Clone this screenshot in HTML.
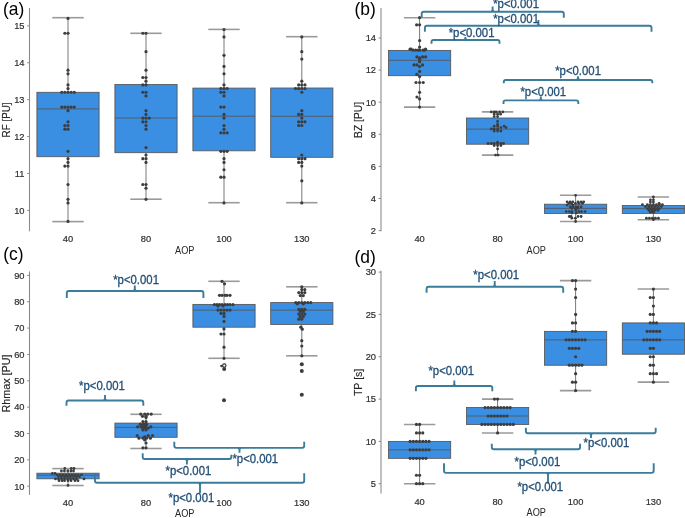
<!DOCTYPE html>
<html><head><meta charset="utf-8"><style>
html,body{margin:0;padding:0;background:#fff;}
body{width:685px;height:518px;overflow:hidden;font-family:"Liberation Sans",sans-serif;}
svg{display:block;}
</style></head><body>
<svg width="685" height="518" viewBox="0 0 685 518" font-family="Liberation Sans, sans-serif" style="will-change:transform">
<rect width="685" height="518" fill="#ffffff"/>
<text x="3" y="15.3" font-size="18.5" fill="#000" text-anchor="start" textLength="21.3" lengthAdjust="spacingAndGlyphs">(a)</text>
<text x="354.5" y="15.2" font-size="18.5" fill="#000" text-anchor="start" textLength="21.3" lengthAdjust="spacingAndGlyphs">(b)</text>
<text x="3.2" y="259.5" font-size="18.5" fill="#000" text-anchor="start" textLength="20.3" lengthAdjust="spacingAndGlyphs">(c)</text>
<text x="354.5" y="263" font-size="18.5" fill="#000" text-anchor="start" textLength="21.3" lengthAdjust="spacingAndGlyphs">(d)</text>
<line x1="29.5" y1="8" x2="29.5" y2="231.3" stroke="#8c8c8c" stroke-width="1.1"/>
<line x1="27.1" y1="210.35" x2="29.5" y2="210.35" stroke="#8c8c8c" stroke-width="1.0"/>
<text x="24.5" y="213.65" font-size="9.3" fill="#2e2e2e" text-anchor="end" stroke="#2e2e2e" stroke-width="0.2">10</text>
<line x1="27.1" y1="173.45" x2="29.5" y2="173.45" stroke="#8c8c8c" stroke-width="1.0"/>
<text x="24.5" y="176.75" font-size="9.3" fill="#2e2e2e" text-anchor="end" stroke="#2e2e2e" stroke-width="0.2">11</text>
<line x1="27.1" y1="136.55" x2="29.5" y2="136.55" stroke="#8c8c8c" stroke-width="1.0"/>
<text x="24.5" y="139.85" font-size="9.3" fill="#2e2e2e" text-anchor="end" stroke="#2e2e2e" stroke-width="0.2">12</text>
<line x1="27.1" y1="99.65" x2="29.5" y2="99.65" stroke="#8c8c8c" stroke-width="1.0"/>
<text x="24.5" y="102.95" font-size="9.3" fill="#2e2e2e" text-anchor="end" stroke="#2e2e2e" stroke-width="0.2">13</text>
<line x1="27.1" y1="62.75" x2="29.5" y2="62.75" stroke="#8c8c8c" stroke-width="1.0"/>
<text x="24.5" y="66.05" font-size="9.3" fill="#2e2e2e" text-anchor="end" stroke="#2e2e2e" stroke-width="0.2">14</text>
<line x1="27.1" y1="25.85" x2="29.5" y2="25.85" stroke="#8c8c8c" stroke-width="1.0"/>
<text x="24.5" y="29.15" font-size="9.3" fill="#2e2e2e" text-anchor="end" stroke="#2e2e2e" stroke-width="0.2">15</text>
<text x="68" y="242.2" font-size="9.3" fill="#2e2e2e" text-anchor="middle" stroke="#2e2e2e" stroke-width="0.2">40</text>
<text x="146" y="242.2" font-size="9.3" fill="#2e2e2e" text-anchor="middle" stroke="#2e2e2e" stroke-width="0.2">80</text>
<text x="224" y="242.2" font-size="9.3" fill="#2e2e2e" text-anchor="middle" stroke="#2e2e2e" stroke-width="0.2">100</text>
<text x="301.8" y="242.2" font-size="9.3" fill="#2e2e2e" text-anchor="middle" stroke="#2e2e2e" stroke-width="0.2">130</text>
<text x="184.7" y="253.9" font-size="10.3" fill="#262626" text-anchor="middle" textLength="19.4" lengthAdjust="spacingAndGlyphs">AOP</text>
<text x="0" y="0" font-size="10.9" fill="#262626" stroke="#262626" stroke-width="0.15" text-anchor="middle" textLength="35" lengthAdjust="spacingAndGlyphs" transform="translate(10 119.95) rotate(-90)">RF [PU]</text>
<line x1="381" y1="8" x2="381" y2="231.3" stroke="#8c8c8c" stroke-width="1.1"/>
<line x1="378.6" y1="230.6" x2="381" y2="230.6" stroke="#8c8c8c" stroke-width="1.0"/>
<text x="376" y="233.9" font-size="9.3" fill="#2e2e2e" text-anchor="end" stroke="#2e2e2e" stroke-width="0.2">2</text>
<line x1="378.6" y1="198.5" x2="381" y2="198.5" stroke="#8c8c8c" stroke-width="1.0"/>
<text x="376" y="201.8" font-size="9.3" fill="#2e2e2e" text-anchor="end" stroke="#2e2e2e" stroke-width="0.2">4</text>
<line x1="378.6" y1="166.4" x2="381" y2="166.4" stroke="#8c8c8c" stroke-width="1.0"/>
<text x="376" y="169.7" font-size="9.3" fill="#2e2e2e" text-anchor="end" stroke="#2e2e2e" stroke-width="0.2">6</text>
<line x1="378.6" y1="134.3" x2="381" y2="134.3" stroke="#8c8c8c" stroke-width="1.0"/>
<text x="376" y="137.6" font-size="9.3" fill="#2e2e2e" text-anchor="end" stroke="#2e2e2e" stroke-width="0.2">8</text>
<line x1="378.6" y1="102.2" x2="381" y2="102.2" stroke="#8c8c8c" stroke-width="1.0"/>
<text x="376" y="105.5" font-size="9.3" fill="#2e2e2e" text-anchor="end" stroke="#2e2e2e" stroke-width="0.2">10</text>
<line x1="378.6" y1="70.1" x2="381" y2="70.1" stroke="#8c8c8c" stroke-width="1.0"/>
<text x="376" y="73.4" font-size="9.3" fill="#2e2e2e" text-anchor="end" stroke="#2e2e2e" stroke-width="0.2">12</text>
<line x1="378.6" y1="38" x2="381" y2="38" stroke="#8c8c8c" stroke-width="1.0"/>
<text x="376" y="41.3" font-size="9.3" fill="#2e2e2e" text-anchor="end" stroke="#2e2e2e" stroke-width="0.2">14</text>
<text x="419.6" y="242.2" font-size="9.3" fill="#2e2e2e" text-anchor="middle" stroke="#2e2e2e" stroke-width="0.2">40</text>
<text x="497.6" y="242.2" font-size="9.3" fill="#2e2e2e" text-anchor="middle" stroke="#2e2e2e" stroke-width="0.2">80</text>
<text x="575.6" y="242.2" font-size="9.3" fill="#2e2e2e" text-anchor="middle" stroke="#2e2e2e" stroke-width="0.2">100</text>
<text x="653.4" y="242.2" font-size="9.3" fill="#2e2e2e" text-anchor="middle" stroke="#2e2e2e" stroke-width="0.2">130</text>
<text x="536.3" y="253.9" font-size="10.3" fill="#262626" text-anchor="middle" textLength="19.4" lengthAdjust="spacingAndGlyphs">AOP</text>
<text x="0" y="0" font-size="10.9" fill="#262626" stroke="#262626" stroke-width="0.15" text-anchor="middle" textLength="35.9" lengthAdjust="spacingAndGlyphs" transform="translate(361.5 119.95) rotate(-90)">BZ [PU]</text>
<line x1="29.5" y1="271.4" x2="29.5" y2="494.9" stroke="#8c8c8c" stroke-width="1.1"/>
<line x1="27.1" y1="486.2" x2="29.5" y2="486.2" stroke="#8c8c8c" stroke-width="1.0"/>
<text x="24.5" y="489.5" font-size="9.3" fill="#2e2e2e" text-anchor="end" stroke="#2e2e2e" stroke-width="0.2">10</text>
<line x1="27.1" y1="459.85" x2="29.5" y2="459.85" stroke="#8c8c8c" stroke-width="1.0"/>
<text x="24.5" y="463.15" font-size="9.3" fill="#2e2e2e" text-anchor="end" stroke="#2e2e2e" stroke-width="0.2">20</text>
<line x1="27.1" y1="433.5" x2="29.5" y2="433.5" stroke="#8c8c8c" stroke-width="1.0"/>
<text x="24.5" y="436.8" font-size="9.3" fill="#2e2e2e" text-anchor="end" stroke="#2e2e2e" stroke-width="0.2">30</text>
<line x1="27.1" y1="407.15" x2="29.5" y2="407.15" stroke="#8c8c8c" stroke-width="1.0"/>
<text x="24.5" y="410.45" font-size="9.3" fill="#2e2e2e" text-anchor="end" stroke="#2e2e2e" stroke-width="0.2">40</text>
<line x1="27.1" y1="380.8" x2="29.5" y2="380.8" stroke="#8c8c8c" stroke-width="1.0"/>
<text x="24.5" y="384.1" font-size="9.3" fill="#2e2e2e" text-anchor="end" stroke="#2e2e2e" stroke-width="0.2">50</text>
<line x1="27.1" y1="354.45" x2="29.5" y2="354.45" stroke="#8c8c8c" stroke-width="1.0"/>
<text x="24.5" y="357.75" font-size="9.3" fill="#2e2e2e" text-anchor="end" stroke="#2e2e2e" stroke-width="0.2">60</text>
<line x1="27.1" y1="328.1" x2="29.5" y2="328.1" stroke="#8c8c8c" stroke-width="1.0"/>
<text x="24.5" y="331.4" font-size="9.3" fill="#2e2e2e" text-anchor="end" stroke="#2e2e2e" stroke-width="0.2">70</text>
<line x1="27.1" y1="301.75" x2="29.5" y2="301.75" stroke="#8c8c8c" stroke-width="1.0"/>
<text x="24.5" y="305.05" font-size="9.3" fill="#2e2e2e" text-anchor="end" stroke="#2e2e2e" stroke-width="0.2">80</text>
<line x1="27.1" y1="275.4" x2="29.5" y2="275.4" stroke="#8c8c8c" stroke-width="1.0"/>
<text x="24.5" y="278.7" font-size="9.3" fill="#2e2e2e" text-anchor="end" stroke="#2e2e2e" stroke-width="0.2">90</text>
<text x="68" y="505.6" font-size="9.3" fill="#2e2e2e" text-anchor="middle" stroke="#2e2e2e" stroke-width="0.2">40</text>
<text x="146" y="505.6" font-size="9.3" fill="#2e2e2e" text-anchor="middle" stroke="#2e2e2e" stroke-width="0.2">80</text>
<text x="224" y="505.6" font-size="9.3" fill="#2e2e2e" text-anchor="middle" stroke="#2e2e2e" stroke-width="0.2">100</text>
<text x="301.8" y="505.6" font-size="9.3" fill="#2e2e2e" text-anchor="middle" stroke="#2e2e2e" stroke-width="0.2">130</text>
<text x="184.7" y="516.9" font-size="10.3" fill="#262626" text-anchor="middle" textLength="19.4" lengthAdjust="spacingAndGlyphs">AOP</text>
<text x="0" y="0" font-size="10.9" fill="#262626" stroke="#262626" stroke-width="0.15" text-anchor="middle" textLength="57.9" lengthAdjust="spacingAndGlyphs" transform="translate(10 383.45) rotate(-90)">Rhmax [PU]</text>
<line x1="381" y1="270.7" x2="381" y2="493.5" stroke="#8c8c8c" stroke-width="1.1"/>
<line x1="378.6" y1="483.72" x2="381" y2="483.72" stroke="#8c8c8c" stroke-width="1.0"/>
<text x="376" y="487.02" font-size="9.3" fill="#2e2e2e" text-anchor="end" stroke="#2e2e2e" stroke-width="0.2">5</text>
<line x1="378.6" y1="441.4" x2="381" y2="441.4" stroke="#8c8c8c" stroke-width="1.0"/>
<text x="376" y="444.7" font-size="9.3" fill="#2e2e2e" text-anchor="end" stroke="#2e2e2e" stroke-width="0.2">10</text>
<line x1="378.6" y1="399.08" x2="381" y2="399.08" stroke="#8c8c8c" stroke-width="1.0"/>
<text x="376" y="402.38" font-size="9.3" fill="#2e2e2e" text-anchor="end" stroke="#2e2e2e" stroke-width="0.2">15</text>
<line x1="378.6" y1="356.76" x2="381" y2="356.76" stroke="#8c8c8c" stroke-width="1.0"/>
<text x="376" y="360.06" font-size="9.3" fill="#2e2e2e" text-anchor="end" stroke="#2e2e2e" stroke-width="0.2">20</text>
<line x1="378.6" y1="314.44" x2="381" y2="314.44" stroke="#8c8c8c" stroke-width="1.0"/>
<text x="376" y="317.74" font-size="9.3" fill="#2e2e2e" text-anchor="end" stroke="#2e2e2e" stroke-width="0.2">25</text>
<line x1="378.6" y1="272.12" x2="381" y2="272.12" stroke="#8c8c8c" stroke-width="1.0"/>
<text x="376" y="275.42" font-size="9.3" fill="#2e2e2e" text-anchor="end" stroke="#2e2e2e" stroke-width="0.2">30</text>
<text x="419.6" y="504.7" font-size="9.3" fill="#2e2e2e" text-anchor="middle" stroke="#2e2e2e" stroke-width="0.2">40</text>
<text x="497.6" y="504.7" font-size="9.3" fill="#2e2e2e" text-anchor="middle" stroke="#2e2e2e" stroke-width="0.2">80</text>
<text x="575.6" y="504.7" font-size="9.3" fill="#2e2e2e" text-anchor="middle" stroke="#2e2e2e" stroke-width="0.2">100</text>
<text x="653.4" y="504.7" font-size="9.3" fill="#2e2e2e" text-anchor="middle" stroke="#2e2e2e" stroke-width="0.2">130</text>
<text x="536.3" y="516" font-size="10.3" fill="#262626" text-anchor="middle" textLength="19.4" lengthAdjust="spacingAndGlyphs">AOP</text>
<text x="0" y="0" font-size="10.9" fill="#262626" stroke="#262626" stroke-width="0.15" text-anchor="middle" textLength="27.4" lengthAdjust="spacingAndGlyphs" transform="translate(361.5 382.4) rotate(-90)">TP [s]</text>
<line x1="68" y1="92.3" x2="68" y2="17.7" stroke="#555555" stroke-width="0.8"/>
<line x1="68" y1="156.7" x2="68" y2="221.6" stroke="#555555" stroke-width="0.8"/>
<line x1="52.3" y1="17.7" x2="83.7" y2="17.7" stroke="#9a9a9a" stroke-width="1.6"/>
<line x1="52.3" y1="221.6" x2="83.7" y2="221.6" stroke="#9a9a9a" stroke-width="1.6"/>
<rect x="36.9" y="92.3" width="62.2" height="64.4" fill="#3a8fe3" stroke="#555555" stroke-width="0.85"/>
<line x1="36.9" y1="108.9" x2="99.1" y2="108.9" stroke="#555555" stroke-width="0.85"/>
<line x1="146" y1="84.5" x2="146" y2="33.3" stroke="#555555" stroke-width="0.8"/>
<line x1="146" y1="152.7" x2="146" y2="199.2" stroke="#555555" stroke-width="0.8"/>
<line x1="130.3" y1="33.3" x2="161.7" y2="33.3" stroke="#9a9a9a" stroke-width="1.6"/>
<line x1="130.3" y1="199.2" x2="161.7" y2="199.2" stroke="#9a9a9a" stroke-width="1.6"/>
<rect x="114.9" y="84.5" width="62.2" height="68.2" fill="#3a8fe3" stroke="#555555" stroke-width="0.85"/>
<line x1="114.9" y1="118" x2="177.1" y2="118" stroke="#555555" stroke-width="0.85"/>
<line x1="224" y1="88.1" x2="224" y2="29.4" stroke="#555555" stroke-width="0.8"/>
<line x1="224" y1="150.8" x2="224" y2="202.7" stroke="#555555" stroke-width="0.8"/>
<line x1="208.3" y1="29.4" x2="239.7" y2="29.4" stroke="#9a9a9a" stroke-width="1.6"/>
<line x1="208.3" y1="202.7" x2="239.7" y2="202.7" stroke="#9a9a9a" stroke-width="1.6"/>
<rect x="192.9" y="88.1" width="62.2" height="62.7" fill="#3a8fe3" stroke="#555555" stroke-width="0.85"/>
<line x1="192.9" y1="116.2" x2="255.1" y2="116.2" stroke="#555555" stroke-width="0.85"/>
<line x1="301.8" y1="88" x2="301.8" y2="36.7" stroke="#555555" stroke-width="0.8"/>
<line x1="301.8" y1="157.3" x2="301.8" y2="202.7" stroke="#555555" stroke-width="0.8"/>
<line x1="286.1" y1="36.7" x2="317.5" y2="36.7" stroke="#9a9a9a" stroke-width="1.6"/>
<line x1="286.1" y1="202.7" x2="317.5" y2="202.7" stroke="#9a9a9a" stroke-width="1.6"/>
<rect x="270.7" y="88" width="62.2" height="69.3" fill="#3a8fe3" stroke="#555555" stroke-width="0.85"/>
<line x1="270.7" y1="116.3" x2="332.9" y2="116.3" stroke="#555555" stroke-width="0.85"/>
<circle cx="68" cy="18.47" r="1.6" fill="#3d3d3d"/>
<circle cx="64.85" cy="33.23" r="1.6" fill="#3d3d3d"/>
<circle cx="68" cy="33.23" r="1.6" fill="#3d3d3d"/>
<circle cx="68" cy="70.13" r="1.6" fill="#3d3d3d"/>
<circle cx="68" cy="73.82" r="1.6" fill="#3d3d3d"/>
<circle cx="68" cy="84.89" r="1.6" fill="#3d3d3d"/>
<circle cx="68" cy="88.58" r="1.6" fill="#3d3d3d"/>
<circle cx="61.7" cy="92.27" r="1.6" fill="#3d3d3d"/>
<circle cx="64.85" cy="92.27" r="1.6" fill="#3d3d3d"/>
<circle cx="68" cy="92.27" r="1.6" fill="#3d3d3d"/>
<circle cx="71.15" cy="92.27" r="1.6" fill="#3d3d3d"/>
<circle cx="74.3" cy="92.27" r="1.6" fill="#3d3d3d"/>
<circle cx="61.7" cy="107.03" r="1.6" fill="#3d3d3d"/>
<circle cx="64.85" cy="107.03" r="1.6" fill="#3d3d3d"/>
<circle cx="68" cy="107.03" r="1.6" fill="#3d3d3d"/>
<circle cx="71.15" cy="107.03" r="1.6" fill="#3d3d3d"/>
<circle cx="74.3" cy="107.03" r="1.6" fill="#3d3d3d"/>
<circle cx="68" cy="110.72" r="1.6" fill="#3d3d3d"/>
<circle cx="68" cy="121.79" r="1.6" fill="#3d3d3d"/>
<circle cx="64.85" cy="125.48" r="1.6" fill="#3d3d3d"/>
<circle cx="68" cy="125.48" r="1.6" fill="#3d3d3d"/>
<circle cx="64.85" cy="129.17" r="1.6" fill="#3d3d3d"/>
<circle cx="68" cy="129.17" r="1.6" fill="#3d3d3d"/>
<circle cx="68" cy="151.31" r="1.6" fill="#3d3d3d"/>
<circle cx="68" cy="158.69" r="1.6" fill="#3d3d3d"/>
<circle cx="68" cy="162.38" r="1.6" fill="#3d3d3d"/>
<circle cx="64.85" cy="166.07" r="1.6" fill="#3d3d3d"/>
<circle cx="68" cy="166.07" r="1.6" fill="#3d3d3d"/>
<circle cx="68" cy="184.52" r="1.6" fill="#3d3d3d"/>
<circle cx="68" cy="199.28" r="1.6" fill="#3d3d3d"/>
<circle cx="68" cy="202.97" r="1.6" fill="#3d3d3d"/>
<circle cx="68" cy="221.42" r="1.6" fill="#3d3d3d"/>
<circle cx="142.85" cy="33.23" r="1.6" fill="#3d3d3d"/>
<circle cx="146" cy="33.23" r="1.6" fill="#3d3d3d"/>
<circle cx="146" cy="51.68" r="1.6" fill="#3d3d3d"/>
<circle cx="146" cy="70.13" r="1.6" fill="#3d3d3d"/>
<circle cx="142.85" cy="77.51" r="1.6" fill="#3d3d3d"/>
<circle cx="146" cy="77.51" r="1.6" fill="#3d3d3d"/>
<circle cx="146" cy="81.2" r="1.6" fill="#3d3d3d"/>
<circle cx="142.85" cy="84.89" r="1.6" fill="#3d3d3d"/>
<circle cx="146" cy="84.89" r="1.6" fill="#3d3d3d"/>
<circle cx="142.85" cy="92.27" r="1.6" fill="#3d3d3d"/>
<circle cx="146" cy="92.27" r="1.6" fill="#3d3d3d"/>
<circle cx="146" cy="95.96" r="1.6" fill="#3d3d3d"/>
<circle cx="146" cy="110.72" r="1.6" fill="#3d3d3d"/>
<circle cx="146" cy="114.41" r="1.6" fill="#3d3d3d"/>
<circle cx="142.85" cy="118.1" r="1.6" fill="#3d3d3d"/>
<circle cx="146" cy="118.1" r="1.6" fill="#3d3d3d"/>
<circle cx="149.15" cy="118.1" r="1.6" fill="#3d3d3d"/>
<circle cx="142.85" cy="121.79" r="1.6" fill="#3d3d3d"/>
<circle cx="146" cy="121.79" r="1.6" fill="#3d3d3d"/>
<circle cx="146" cy="125.48" r="1.6" fill="#3d3d3d"/>
<circle cx="146" cy="129.17" r="1.6" fill="#3d3d3d"/>
<circle cx="146" cy="147.62" r="1.6" fill="#3d3d3d"/>
<circle cx="146" cy="155" r="1.6" fill="#3d3d3d"/>
<circle cx="142.85" cy="158.69" r="1.6" fill="#3d3d3d"/>
<circle cx="146" cy="158.69" r="1.6" fill="#3d3d3d"/>
<circle cx="146" cy="162.38" r="1.6" fill="#3d3d3d"/>
<circle cx="142.85" cy="184.52" r="1.6" fill="#3d3d3d"/>
<circle cx="146" cy="184.52" r="1.6" fill="#3d3d3d"/>
<circle cx="146" cy="188.21" r="1.6" fill="#3d3d3d"/>
<circle cx="146" cy="199.28" r="1.6" fill="#3d3d3d"/>
<circle cx="224" cy="29.54" r="1.6" fill="#3d3d3d"/>
<circle cx="224" cy="36.92" r="1.6" fill="#3d3d3d"/>
<circle cx="224" cy="55.37" r="1.6" fill="#3d3d3d"/>
<circle cx="224" cy="66.44" r="1.6" fill="#3d3d3d"/>
<circle cx="224" cy="73.82" r="1.6" fill="#3d3d3d"/>
<circle cx="224" cy="84.89" r="1.6" fill="#3d3d3d"/>
<circle cx="220.85" cy="88.58" r="1.6" fill="#3d3d3d"/>
<circle cx="224" cy="88.58" r="1.6" fill="#3d3d3d"/>
<circle cx="227.15" cy="88.58" r="1.6" fill="#3d3d3d"/>
<circle cx="220.85" cy="92.27" r="1.6" fill="#3d3d3d"/>
<circle cx="224" cy="92.27" r="1.6" fill="#3d3d3d"/>
<circle cx="224" cy="95.96" r="1.6" fill="#3d3d3d"/>
<circle cx="220.85" cy="107.03" r="1.6" fill="#3d3d3d"/>
<circle cx="224" cy="107.03" r="1.6" fill="#3d3d3d"/>
<circle cx="224" cy="114.41" r="1.6" fill="#3d3d3d"/>
<circle cx="224" cy="118.1" r="1.6" fill="#3d3d3d"/>
<circle cx="224" cy="125.48" r="1.6" fill="#3d3d3d"/>
<circle cx="224" cy="129.17" r="1.6" fill="#3d3d3d"/>
<circle cx="220.85" cy="132.86" r="1.6" fill="#3d3d3d"/>
<circle cx="224" cy="132.86" r="1.6" fill="#3d3d3d"/>
<circle cx="227.15" cy="132.86" r="1.6" fill="#3d3d3d"/>
<circle cx="220.85" cy="151.31" r="1.6" fill="#3d3d3d"/>
<circle cx="224" cy="151.31" r="1.6" fill="#3d3d3d"/>
<circle cx="227.15" cy="151.31" r="1.6" fill="#3d3d3d"/>
<circle cx="224" cy="158.69" r="1.6" fill="#3d3d3d"/>
<circle cx="224" cy="162.38" r="1.6" fill="#3d3d3d"/>
<circle cx="224" cy="169.76" r="1.6" fill="#3d3d3d"/>
<circle cx="220.85" cy="177.14" r="1.6" fill="#3d3d3d"/>
<circle cx="224" cy="177.14" r="1.6" fill="#3d3d3d"/>
<circle cx="224" cy="202.97" r="1.6" fill="#3d3d3d"/>
<circle cx="301.8" cy="36.92" r="1.6" fill="#3d3d3d"/>
<circle cx="301.8" cy="51.68" r="1.6" fill="#3d3d3d"/>
<circle cx="301.8" cy="59.06" r="1.6" fill="#3d3d3d"/>
<circle cx="301.8" cy="81.2" r="1.6" fill="#3d3d3d"/>
<circle cx="298.65" cy="84.89" r="1.6" fill="#3d3d3d"/>
<circle cx="301.8" cy="84.89" r="1.6" fill="#3d3d3d"/>
<circle cx="304.95" cy="84.89" r="1.6" fill="#3d3d3d"/>
<circle cx="295.5" cy="88.58" r="1.6" fill="#3d3d3d"/>
<circle cx="298.65" cy="88.58" r="1.6" fill="#3d3d3d"/>
<circle cx="301.8" cy="88.58" r="1.6" fill="#3d3d3d"/>
<circle cx="304.95" cy="88.58" r="1.6" fill="#3d3d3d"/>
<circle cx="301.8" cy="92.27" r="1.6" fill="#3d3d3d"/>
<circle cx="301.8" cy="110.72" r="1.6" fill="#3d3d3d"/>
<circle cx="298.65" cy="114.41" r="1.6" fill="#3d3d3d"/>
<circle cx="301.8" cy="114.41" r="1.6" fill="#3d3d3d"/>
<circle cx="301.8" cy="118.1" r="1.6" fill="#3d3d3d"/>
<circle cx="298.65" cy="121.79" r="1.6" fill="#3d3d3d"/>
<circle cx="301.8" cy="121.79" r="1.6" fill="#3d3d3d"/>
<circle cx="304.95" cy="121.79" r="1.6" fill="#3d3d3d"/>
<circle cx="298.65" cy="125.48" r="1.6" fill="#3d3d3d"/>
<circle cx="301.8" cy="125.48" r="1.6" fill="#3d3d3d"/>
<circle cx="301.8" cy="155" r="1.6" fill="#3d3d3d"/>
<circle cx="298.65" cy="158.69" r="1.6" fill="#3d3d3d"/>
<circle cx="301.8" cy="158.69" r="1.6" fill="#3d3d3d"/>
<circle cx="304.95" cy="158.69" r="1.6" fill="#3d3d3d"/>
<circle cx="298.65" cy="162.38" r="1.6" fill="#3d3d3d"/>
<circle cx="301.8" cy="162.38" r="1.6" fill="#3d3d3d"/>
<circle cx="301.8" cy="166.07" r="1.6" fill="#3d3d3d"/>
<circle cx="301.8" cy="180.83" r="1.6" fill="#3d3d3d"/>
<circle cx="301.8" cy="202.97" r="1.6" fill="#3d3d3d"/>
<line x1="419.6" y1="50.4" x2="419.6" y2="17.7" stroke="#555555" stroke-width="0.8"/>
<line x1="419.6" y1="75.7" x2="419.6" y2="107.1" stroke="#555555" stroke-width="0.8"/>
<line x1="403.9" y1="17.7" x2="435.3" y2="17.7" stroke="#9a9a9a" stroke-width="1.6"/>
<line x1="403.9" y1="107.1" x2="435.3" y2="107.1" stroke="#9a9a9a" stroke-width="1.6"/>
<rect x="388.5" y="50.4" width="62.2" height="25.3" fill="#3a8fe3" stroke="#555555" stroke-width="0.85"/>
<line x1="388.5" y1="60.3" x2="450.7" y2="60.3" stroke="#555555" stroke-width="0.85"/>
<line x1="497.6" y1="118" x2="497.6" y2="111.9" stroke="#555555" stroke-width="0.8"/>
<line x1="497.6" y1="144.2" x2="497.6" y2="155.1" stroke="#555555" stroke-width="0.8"/>
<line x1="481.9" y1="111.9" x2="513.3" y2="111.9" stroke="#9a9a9a" stroke-width="1.6"/>
<line x1="481.9" y1="155.1" x2="513.3" y2="155.1" stroke="#9a9a9a" stroke-width="1.6"/>
<rect x="466.5" y="118" width="62.2" height="26.2" fill="#3a8fe3" stroke="#555555" stroke-width="0.85"/>
<line x1="466.5" y1="129.1" x2="528.7" y2="129.1" stroke="#555555" stroke-width="0.85"/>
<line x1="575.6" y1="204.2" x2="575.6" y2="195.3" stroke="#555555" stroke-width="0.8"/>
<line x1="575.6" y1="213.4" x2="575.6" y2="221.5" stroke="#555555" stroke-width="0.8"/>
<line x1="559.9" y1="195.3" x2="591.3" y2="195.3" stroke="#9a9a9a" stroke-width="1.6"/>
<line x1="559.9" y1="221.5" x2="591.3" y2="221.5" stroke="#9a9a9a" stroke-width="1.6"/>
<rect x="544.5" y="204.2" width="62.2" height="9.2" fill="#3a8fe3" stroke="#555555" stroke-width="0.85"/>
<line x1="544.5" y1="208.4" x2="606.7" y2="208.4" stroke="#555555" stroke-width="0.85"/>
<line x1="653.4" y1="205.5" x2="653.4" y2="197" stroke="#555555" stroke-width="0.8"/>
<line x1="653.4" y1="213.4" x2="653.4" y2="219.7" stroke="#555555" stroke-width="0.8"/>
<line x1="637.7" y1="197" x2="669.1" y2="197" stroke="#9a9a9a" stroke-width="1.6"/>
<line x1="637.7" y1="219.7" x2="669.1" y2="219.7" stroke="#9a9a9a" stroke-width="1.6"/>
<rect x="622.3" y="205.5" width="62.2" height="7.9" fill="#3a8fe3" stroke="#555555" stroke-width="0.85"/>
<line x1="622.3" y1="208.6" x2="684.5" y2="208.6" stroke="#555555" stroke-width="0.85"/>
<circle cx="419.6" cy="17.7" r="1.6" fill="#3d3d3d"/>
<circle cx="416.6" cy="24.8" r="1.6" fill="#3d3d3d"/>
<circle cx="419.6" cy="24.8" r="1.6" fill="#3d3d3d"/>
<circle cx="419.6" cy="40.6" r="1.6" fill="#3d3d3d"/>
<circle cx="419.6" cy="47" r="1.6" fill="#3d3d3d"/>
<circle cx="410.1" cy="49.2" r="1.6" fill="#3d3d3d"/>
<circle cx="411.1" cy="49.2" r="1.6" fill="#3d3d3d"/>
<circle cx="425.6" cy="49.2" r="1.6" fill="#3d3d3d"/>
<circle cx="413.1" cy="50.1" r="1.6" fill="#3d3d3d"/>
<circle cx="415.6" cy="50.1" r="1.6" fill="#3d3d3d"/>
<circle cx="418.1" cy="50.1" r="1.6" fill="#3d3d3d"/>
<circle cx="419.9" cy="50.1" r="1.6" fill="#3d3d3d"/>
<circle cx="423.1" cy="50.1" r="1.6" fill="#3d3d3d"/>
<circle cx="424.6" cy="50.1" r="1.6" fill="#3d3d3d"/>
<circle cx="416.9" cy="56.9" r="1.6" fill="#3d3d3d"/>
<circle cx="422.6" cy="56.9" r="1.6" fill="#3d3d3d"/>
<circle cx="425.6" cy="56.9" r="1.6" fill="#3d3d3d"/>
<circle cx="419.6" cy="57.9" r="1.6" fill="#3d3d3d"/>
<circle cx="419.6" cy="59.3" r="1.6" fill="#3d3d3d"/>
<circle cx="419.6" cy="61.7" r="1.6" fill="#3d3d3d"/>
<circle cx="414" cy="64.9" r="1.6" fill="#3d3d3d"/>
<circle cx="416.9" cy="64.9" r="1.6" fill="#3d3d3d"/>
<circle cx="422.6" cy="64.9" r="1.6" fill="#3d3d3d"/>
<circle cx="419.6" cy="66.6" r="1.6" fill="#3d3d3d"/>
<circle cx="419.6" cy="71.4" r="1.6" fill="#3d3d3d"/>
<circle cx="416.9" cy="74.3" r="1.6" fill="#3d3d3d"/>
<circle cx="419.6" cy="76.5" r="1.6" fill="#3d3d3d"/>
<circle cx="416" cy="82.5" r="1.6" fill="#3d3d3d"/>
<circle cx="419.6" cy="82.5" r="1.6" fill="#3d3d3d"/>
<circle cx="423.2" cy="82.5" r="1.6" fill="#3d3d3d"/>
<circle cx="419.6" cy="92.3" r="1.6" fill="#3d3d3d"/>
<circle cx="417" cy="97" r="1.6" fill="#3d3d3d"/>
<circle cx="419.6" cy="98.9" r="1.6" fill="#3d3d3d"/>
<circle cx="419.6" cy="107.1" r="1.6" fill="#3d3d3d"/>
<circle cx="491.3" cy="111.9" r="1.4" fill="#3d3d3d"/>
<circle cx="494.2" cy="111.9" r="1.4" fill="#3d3d3d"/>
<circle cx="496.2" cy="111.9" r="1.4" fill="#3d3d3d"/>
<circle cx="499.6" cy="111.9" r="1.4" fill="#3d3d3d"/>
<circle cx="502.9" cy="111.9" r="1.4" fill="#3d3d3d"/>
<circle cx="494.2" cy="114.2" r="1.4" fill="#3d3d3d"/>
<circle cx="497.6" cy="114.2" r="1.4" fill="#3d3d3d"/>
<circle cx="500.6" cy="114.2" r="1.4" fill="#3d3d3d"/>
<circle cx="494.2" cy="116.6" r="1.4" fill="#3d3d3d"/>
<circle cx="497.6" cy="116.6" r="1.4" fill="#3d3d3d"/>
<circle cx="497.6" cy="121.4" r="1.4" fill="#3d3d3d"/>
<circle cx="497.6" cy="124.3" r="1.4" fill="#3d3d3d"/>
<circle cx="494.2" cy="126.2" r="1.4" fill="#3d3d3d"/>
<circle cx="497.6" cy="126.2" r="1.4" fill="#3d3d3d"/>
<circle cx="504.2" cy="126.2" r="1.4" fill="#3d3d3d"/>
<circle cx="500.9" cy="127.6" r="1.4" fill="#3d3d3d"/>
<circle cx="506.1" cy="127.6" r="1.4" fill="#3d3d3d"/>
<circle cx="491.3" cy="129" r="1.4" fill="#3d3d3d"/>
<circle cx="494.2" cy="129" r="1.4" fill="#3d3d3d"/>
<circle cx="497.6" cy="129" r="1.4" fill="#3d3d3d"/>
<circle cx="494.2" cy="131" r="1.4" fill="#3d3d3d"/>
<circle cx="497.6" cy="131" r="1.4" fill="#3d3d3d"/>
<circle cx="500.9" cy="131" r="1.4" fill="#3d3d3d"/>
<circle cx="497.6" cy="142.2" r="1.4" fill="#3d3d3d"/>
<circle cx="488.1" cy="143.5" r="1.4" fill="#3d3d3d"/>
<circle cx="491.3" cy="143.5" r="1.4" fill="#3d3d3d"/>
<circle cx="494.2" cy="143.5" r="1.4" fill="#3d3d3d"/>
<circle cx="497.6" cy="143.5" r="1.4" fill="#3d3d3d"/>
<circle cx="500.9" cy="143.5" r="1.4" fill="#3d3d3d"/>
<circle cx="503.6" cy="143.5" r="1.4" fill="#3d3d3d"/>
<circle cx="494.2" cy="145.5" r="1.4" fill="#3d3d3d"/>
<circle cx="497.6" cy="145.5" r="1.4" fill="#3d3d3d"/>
<circle cx="500.9" cy="145.5" r="1.4" fill="#3d3d3d"/>
<circle cx="497.6" cy="148.9" r="1.4" fill="#3d3d3d"/>
<circle cx="495.6" cy="155.1" r="1.4" fill="#3d3d3d"/>
<circle cx="498.1" cy="155.1" r="1.4" fill="#3d3d3d"/>
<circle cx="575.6" cy="195.3" r="1.4" fill="#3d3d3d"/>
<circle cx="567.11" cy="201.8" r="1.4" fill="#3d3d3d"/>
<circle cx="570.17" cy="201.8" r="1.4" fill="#3d3d3d"/>
<circle cx="572.8" cy="201.8" r="1.4" fill="#3d3d3d"/>
<circle cx="578.05" cy="201.8" r="1.4" fill="#3d3d3d"/>
<circle cx="581.12" cy="201.8" r="1.4" fill="#3d3d3d"/>
<circle cx="583.74" cy="201.8" r="1.4" fill="#3d3d3d"/>
<circle cx="568.86" cy="203.3" r="1.4" fill="#3d3d3d"/>
<circle cx="571.48" cy="203.3" r="1.4" fill="#3d3d3d"/>
<circle cx="575.42" cy="203.3" r="1.4" fill="#3d3d3d"/>
<circle cx="578.93" cy="203.3" r="1.4" fill="#3d3d3d"/>
<circle cx="582.43" cy="203.3" r="1.4" fill="#3d3d3d"/>
<circle cx="567.11" cy="205.1" r="1.4" fill="#3d3d3d"/>
<circle cx="572.8" cy="205.1" r="1.4" fill="#3d3d3d"/>
<circle cx="570.17" cy="206.8" r="1.4" fill="#3d3d3d"/>
<circle cx="572.8" cy="206.8" r="1.4" fill="#3d3d3d"/>
<circle cx="575.86" cy="206.8" r="1.4" fill="#3d3d3d"/>
<circle cx="578.05" cy="206.8" r="1.4" fill="#3d3d3d"/>
<circle cx="581.12" cy="206.8" r="1.4" fill="#3d3d3d"/>
<circle cx="571.92" cy="208.3" r="1.4" fill="#3d3d3d"/>
<circle cx="575.42" cy="208.3" r="1.4" fill="#3d3d3d"/>
<circle cx="578.05" cy="208.3" r="1.4" fill="#3d3d3d"/>
<circle cx="575.86" cy="210.3" r="1.4" fill="#3d3d3d"/>
<circle cx="566.23" cy="211.6" r="1.4" fill="#3d3d3d"/>
<circle cx="569.3" cy="211.6" r="1.4" fill="#3d3d3d"/>
<circle cx="571.92" cy="211.6" r="1.4" fill="#3d3d3d"/>
<circle cx="578.93" cy="211.6" r="1.4" fill="#3d3d3d"/>
<circle cx="581.55" cy="211.6" r="1.4" fill="#3d3d3d"/>
<circle cx="585.06" cy="211.6" r="1.4" fill="#3d3d3d"/>
<circle cx="571.92" cy="213" r="1.4" fill="#3d3d3d"/>
<circle cx="576.3" cy="213" r="1.4" fill="#3d3d3d"/>
<circle cx="569.3" cy="216.5" r="1.4" fill="#3d3d3d"/>
<circle cx="571.05" cy="216.5" r="1.4" fill="#3d3d3d"/>
<circle cx="578.05" cy="216.5" r="1.4" fill="#3d3d3d"/>
<circle cx="581.12" cy="216.5" r="1.4" fill="#3d3d3d"/>
<circle cx="571.92" cy="218.2" r="1.4" fill="#3d3d3d"/>
<circle cx="575.42" cy="218.2" r="1.4" fill="#3d3d3d"/>
<circle cx="575.6" cy="221.5" r="1.4" fill="#3d3d3d"/>
<circle cx="653.4" cy="197" r="1.4" fill="#3d3d3d"/>
<circle cx="650.4" cy="199.8" r="1.4" fill="#3d3d3d"/>
<circle cx="653.4" cy="199.8" r="1.4" fill="#3d3d3d"/>
<circle cx="650.4" cy="202" r="1.4" fill="#3d3d3d"/>
<circle cx="653.4" cy="202" r="1.4" fill="#3d3d3d"/>
<circle cx="659.09" cy="203.3" r="1.4" fill="#3d3d3d"/>
<circle cx="642.4" cy="204.6" r="1.4" fill="#3d3d3d"/>
<circle cx="647.4" cy="204.6" r="1.4" fill="#3d3d3d"/>
<circle cx="650.4" cy="204.6" r="1.4" fill="#3d3d3d"/>
<circle cx="653.4" cy="204.6" r="1.4" fill="#3d3d3d"/>
<circle cx="656.4" cy="204.6" r="1.4" fill="#3d3d3d"/>
<circle cx="659.4" cy="204.6" r="1.4" fill="#3d3d3d"/>
<circle cx="662.4" cy="204.6" r="1.4" fill="#3d3d3d"/>
<circle cx="645.4" cy="206.6" r="1.4" fill="#3d3d3d"/>
<circle cx="648.9" cy="206.6" r="1.4" fill="#3d3d3d"/>
<circle cx="651.9" cy="206.6" r="1.4" fill="#3d3d3d"/>
<circle cx="654.9" cy="206.6" r="1.4" fill="#3d3d3d"/>
<circle cx="657.9" cy="206.6" r="1.4" fill="#3d3d3d"/>
<circle cx="661.4" cy="206.6" r="1.4" fill="#3d3d3d"/>
<circle cx="647.4" cy="208.6" r="1.4" fill="#3d3d3d"/>
<circle cx="650.4" cy="208.6" r="1.4" fill="#3d3d3d"/>
<circle cx="653.4" cy="208.6" r="1.4" fill="#3d3d3d"/>
<circle cx="656.4" cy="208.6" r="1.4" fill="#3d3d3d"/>
<circle cx="659.4" cy="208.6" r="1.4" fill="#3d3d3d"/>
<circle cx="648.9" cy="210.4" r="1.4" fill="#3d3d3d"/>
<circle cx="651.9" cy="210.4" r="1.4" fill="#3d3d3d"/>
<circle cx="654.9" cy="210.4" r="1.4" fill="#3d3d3d"/>
<circle cx="657.9" cy="210.4" r="1.4" fill="#3d3d3d"/>
<circle cx="650.4" cy="212.2" r="1.4" fill="#3d3d3d"/>
<circle cx="653.4" cy="212.2" r="1.4" fill="#3d3d3d"/>
<circle cx="646.4" cy="218.2" r="1.4" fill="#3d3d3d"/>
<circle cx="649.4" cy="218.2" r="1.4" fill="#3d3d3d"/>
<circle cx="652.4" cy="218.2" r="1.4" fill="#3d3d3d"/>
<circle cx="655.4" cy="218.2" r="1.4" fill="#3d3d3d"/>
<circle cx="658.4" cy="218.2" r="1.4" fill="#3d3d3d"/>
<circle cx="653.4" cy="219.7" r="1.4" fill="#3d3d3d"/>
<line x1="68" y1="473.2" x2="68" y2="468.6" stroke="#555555" stroke-width="0.8"/>
<line x1="68" y1="478.8" x2="68" y2="485.5" stroke="#555555" stroke-width="0.8"/>
<line x1="52.3" y1="468.6" x2="83.7" y2="468.6" stroke="#9a9a9a" stroke-width="1.6"/>
<line x1="52.3" y1="485.5" x2="83.7" y2="485.5" stroke="#9a9a9a" stroke-width="1.6"/>
<rect x="36.9" y="473.2" width="62.2" height="5.6" fill="#3a8fe3" stroke="#555555" stroke-width="0.85"/>
<line x1="36.9" y1="475.2" x2="99.1" y2="475.2" stroke="#555555" stroke-width="0.85"/>
<line x1="146" y1="423.1" x2="146" y2="414.3" stroke="#555555" stroke-width="0.8"/>
<line x1="146" y1="437.3" x2="146" y2="448.5" stroke="#555555" stroke-width="0.8"/>
<line x1="130.3" y1="414.3" x2="161.7" y2="414.3" stroke="#9a9a9a" stroke-width="1.6"/>
<line x1="130.3" y1="448.5" x2="161.7" y2="448.5" stroke="#9a9a9a" stroke-width="1.6"/>
<rect x="114.9" y="423.1" width="62.2" height="14.2" fill="#3a8fe3" stroke="#555555" stroke-width="0.85"/>
<line x1="114.9" y1="427.4" x2="177.1" y2="427.4" stroke="#555555" stroke-width="0.85"/>
<line x1="224" y1="304.4" x2="224" y2="281.3" stroke="#555555" stroke-width="0.8"/>
<line x1="224" y1="327.2" x2="224" y2="358.3" stroke="#555555" stroke-width="0.8"/>
<line x1="208.3" y1="281.3" x2="239.7" y2="281.3" stroke="#9a9a9a" stroke-width="1.6"/>
<line x1="208.3" y1="358.3" x2="239.7" y2="358.3" stroke="#9a9a9a" stroke-width="1.6"/>
<rect x="192.9" y="304.4" width="62.2" height="22.8" fill="#3a8fe3" stroke="#555555" stroke-width="0.85"/>
<line x1="192.9" y1="310.1" x2="255.1" y2="310.1" stroke="#555555" stroke-width="0.85"/>
<line x1="301.8" y1="302.6" x2="301.8" y2="286.8" stroke="#555555" stroke-width="0.8"/>
<line x1="301.8" y1="324.4" x2="301.8" y2="355.8" stroke="#555555" stroke-width="0.8"/>
<line x1="286.1" y1="286.8" x2="317.5" y2="286.8" stroke="#9a9a9a" stroke-width="1.6"/>
<line x1="286.1" y1="355.8" x2="317.5" y2="355.8" stroke="#9a9a9a" stroke-width="1.6"/>
<rect x="270.7" y="302.6" width="62.2" height="21.8" fill="#3a8fe3" stroke="#555555" stroke-width="0.85"/>
<line x1="270.7" y1="310.1" x2="332.9" y2="310.1" stroke="#555555" stroke-width="0.85"/>
<circle cx="64.8" cy="468.5" r="1.4" fill="#3d3d3d"/>
<circle cx="71.3" cy="468.5" r="1.4" fill="#3d3d3d"/>
<circle cx="74" cy="468.5" r="1.4" fill="#3d3d3d"/>
<circle cx="61.4" cy="471" r="1.4" fill="#3d3d3d"/>
<circle cx="64.4" cy="471" r="1.4" fill="#3d3d3d"/>
<circle cx="67.8" cy="471" r="1.4" fill="#3d3d3d"/>
<circle cx="70.9" cy="471" r="1.4" fill="#3d3d3d"/>
<circle cx="73.5" cy="471" r="1.4" fill="#3d3d3d"/>
<circle cx="52.4" cy="473.4" r="1.4" fill="#3d3d3d"/>
<circle cx="55" cy="473.4" r="1.4" fill="#3d3d3d"/>
<circle cx="57" cy="474.8" r="1.4" fill="#3d3d3d"/>
<circle cx="60" cy="474.8" r="1.4" fill="#3d3d3d"/>
<circle cx="63" cy="474.8" r="1.4" fill="#3d3d3d"/>
<circle cx="66" cy="474.8" r="1.4" fill="#3d3d3d"/>
<circle cx="69" cy="474.8" r="1.4" fill="#3d3d3d"/>
<circle cx="72" cy="474.8" r="1.4" fill="#3d3d3d"/>
<circle cx="75" cy="474.8" r="1.4" fill="#3d3d3d"/>
<circle cx="78" cy="474.8" r="1.4" fill="#3d3d3d"/>
<circle cx="81.5" cy="474.8" r="1.4" fill="#3d3d3d"/>
<circle cx="58.5" cy="476.7" r="1.4" fill="#3d3d3d"/>
<circle cx="61.5" cy="476.7" r="1.4" fill="#3d3d3d"/>
<circle cx="64.5" cy="476.7" r="1.4" fill="#3d3d3d"/>
<circle cx="67.5" cy="476.7" r="1.4" fill="#3d3d3d"/>
<circle cx="70.5" cy="476.7" r="1.4" fill="#3d3d3d"/>
<circle cx="73.5" cy="476.7" r="1.4" fill="#3d3d3d"/>
<circle cx="76.5" cy="476.7" r="1.4" fill="#3d3d3d"/>
<circle cx="79.5" cy="476.7" r="1.4" fill="#3d3d3d"/>
<circle cx="55.5" cy="478.9" r="1.4" fill="#3d3d3d"/>
<circle cx="58.5" cy="478.9" r="1.4" fill="#3d3d3d"/>
<circle cx="61.5" cy="478.9" r="1.4" fill="#3d3d3d"/>
<circle cx="64.5" cy="478.9" r="1.4" fill="#3d3d3d"/>
<circle cx="67.5" cy="478.9" r="1.4" fill="#3d3d3d"/>
<circle cx="70.5" cy="478.9" r="1.4" fill="#3d3d3d"/>
<circle cx="73.5" cy="478.9" r="1.4" fill="#3d3d3d"/>
<circle cx="76.5" cy="478.9" r="1.4" fill="#3d3d3d"/>
<circle cx="84" cy="478.9" r="1.4" fill="#3d3d3d"/>
<circle cx="59" cy="480.7" r="1.4" fill="#3d3d3d"/>
<circle cx="62" cy="480.7" r="1.4" fill="#3d3d3d"/>
<circle cx="64.5" cy="480.7" r="1.4" fill="#3d3d3d"/>
<circle cx="68" cy="480.7" r="1.4" fill="#3d3d3d"/>
<circle cx="71" cy="480.7" r="1.4" fill="#3d3d3d"/>
<circle cx="75" cy="480.7" r="1.4" fill="#3d3d3d"/>
<circle cx="78" cy="480.7" r="1.4" fill="#3d3d3d"/>
<circle cx="68" cy="485.4" r="1.4" fill="#3d3d3d"/>
<circle cx="140.75" cy="414.1" r="1.6" fill="#3d3d3d"/>
<circle cx="144.69" cy="414.1" r="1.6" fill="#3d3d3d"/>
<circle cx="147.75" cy="414.1" r="1.6" fill="#3d3d3d"/>
<circle cx="151.25" cy="414.1" r="1.6" fill="#3d3d3d"/>
<circle cx="142.5" cy="416.3" r="1.6" fill="#3d3d3d"/>
<circle cx="146" cy="416.3" r="1.6" fill="#3d3d3d"/>
<circle cx="146" cy="417.6" r="1.6" fill="#3d3d3d"/>
<circle cx="142.94" cy="421.6" r="1.6" fill="#3d3d3d"/>
<circle cx="146" cy="421.6" r="1.6" fill="#3d3d3d"/>
<circle cx="140.31" cy="424.2" r="1.6" fill="#3d3d3d"/>
<circle cx="143.81" cy="424.2" r="1.6" fill="#3d3d3d"/>
<circle cx="146.44" cy="424.2" r="1.6" fill="#3d3d3d"/>
<circle cx="142.06" cy="425.5" r="1.6" fill="#3d3d3d"/>
<circle cx="146" cy="425.5" r="1.6" fill="#3d3d3d"/>
<circle cx="137.68" cy="426.8" r="1.6" fill="#3d3d3d"/>
<circle cx="141.18" cy="426.8" r="1.6" fill="#3d3d3d"/>
<circle cx="144.69" cy="426.8" r="1.6" fill="#3d3d3d"/>
<circle cx="150.82" cy="426.8" r="1.6" fill="#3d3d3d"/>
<circle cx="142.94" cy="428.1" r="1.6" fill="#3d3d3d"/>
<circle cx="146" cy="428.1" r="1.6" fill="#3d3d3d"/>
<circle cx="148.19" cy="428.1" r="1.6" fill="#3d3d3d"/>
<circle cx="142.94" cy="429.9" r="1.6" fill="#3d3d3d"/>
<circle cx="146" cy="429.9" r="1.6" fill="#3d3d3d"/>
<circle cx="137.24" cy="435.6" r="1.6" fill="#3d3d3d"/>
<circle cx="148.19" cy="435.6" r="1.6" fill="#3d3d3d"/>
<circle cx="152.57" cy="435.6" r="1.6" fill="#3d3d3d"/>
<circle cx="144.69" cy="436.9" r="1.6" fill="#3d3d3d"/>
<circle cx="138.99" cy="438.2" r="1.6" fill="#3d3d3d"/>
<circle cx="142.94" cy="438.2" r="1.6" fill="#3d3d3d"/>
<circle cx="146.44" cy="438.2" r="1.6" fill="#3d3d3d"/>
<circle cx="150.38" cy="438.2" r="1.6" fill="#3d3d3d"/>
<circle cx="144.69" cy="440" r="1.6" fill="#3d3d3d"/>
<circle cx="146" cy="443" r="1.6" fill="#3d3d3d"/>
<circle cx="142.94" cy="447.8" r="1.6" fill="#3d3d3d"/>
<circle cx="146" cy="447.8" r="1.6" fill="#3d3d3d"/>
<circle cx="222" cy="281.3" r="1.6" fill="#3d3d3d"/>
<circle cx="224.5" cy="283.8" r="1.6" fill="#3d3d3d"/>
<circle cx="219.5" cy="295.3" r="1.6" fill="#3d3d3d"/>
<circle cx="222" cy="295.3" r="1.6" fill="#3d3d3d"/>
<circle cx="225" cy="295.3" r="1.6" fill="#3d3d3d"/>
<circle cx="227" cy="295.3" r="1.6" fill="#3d3d3d"/>
<circle cx="230" cy="295.3" r="1.6" fill="#3d3d3d"/>
<circle cx="214.4" cy="304.6" r="1.6" fill="#3d3d3d"/>
<circle cx="217" cy="304.6" r="1.6" fill="#3d3d3d"/>
<circle cx="219.5" cy="304.6" r="1.6" fill="#3d3d3d"/>
<circle cx="222" cy="304.6" r="1.6" fill="#3d3d3d"/>
<circle cx="225" cy="304.6" r="1.6" fill="#3d3d3d"/>
<circle cx="227.5" cy="304.6" r="1.6" fill="#3d3d3d"/>
<circle cx="230" cy="304.6" r="1.6" fill="#3d3d3d"/>
<circle cx="233" cy="304.6" r="1.6" fill="#3d3d3d"/>
<circle cx="218" cy="305.9" r="1.6" fill="#3d3d3d"/>
<circle cx="223" cy="305.9" r="1.6" fill="#3d3d3d"/>
<circle cx="218" cy="310.1" r="1.6" fill="#3d3d3d"/>
<circle cx="221" cy="310.1" r="1.6" fill="#3d3d3d"/>
<circle cx="224" cy="310.1" r="1.6" fill="#3d3d3d"/>
<circle cx="227" cy="310.1" r="1.6" fill="#3d3d3d"/>
<circle cx="230" cy="310.1" r="1.6" fill="#3d3d3d"/>
<circle cx="221" cy="313.4" r="1.6" fill="#3d3d3d"/>
<circle cx="224" cy="313.4" r="1.6" fill="#3d3d3d"/>
<circle cx="224" cy="316.4" r="1.6" fill="#3d3d3d"/>
<circle cx="224" cy="321.4" r="1.6" fill="#3d3d3d"/>
<circle cx="224" cy="328.9" r="1.6" fill="#3d3d3d"/>
<circle cx="221" cy="334" r="1.6" fill="#3d3d3d"/>
<circle cx="224" cy="334" r="1.6" fill="#3d3d3d"/>
<circle cx="224" cy="347.2" r="1.6" fill="#3d3d3d"/>
<circle cx="224" cy="358.3" r="1.6" fill="#3d3d3d"/>
<circle cx="221.5" cy="366" r="1.3" fill="#3d3d3d"/>
<circle cx="224.2" cy="369.1" r="2.0" fill="#3d3d3d"/>
<circle cx="224.3" cy="365.6" r="1.7" fill="#f4f4f4" stroke="#333" stroke-width="1.1"/>
<circle cx="224" cy="400.3" r="2.0" fill="#3d3d3d"/>
<circle cx="301.8" cy="286.8" r="1.6" fill="#3d3d3d"/>
<circle cx="301.8" cy="289.6" r="1.6" fill="#3d3d3d"/>
<circle cx="304.8" cy="289.6" r="1.6" fill="#3d3d3d"/>
<circle cx="298.8" cy="292.6" r="1.6" fill="#3d3d3d"/>
<circle cx="301.8" cy="292.6" r="1.6" fill="#3d3d3d"/>
<circle cx="304.8" cy="292.6" r="1.6" fill="#3d3d3d"/>
<circle cx="300.3" cy="295.6" r="1.6" fill="#3d3d3d"/>
<circle cx="303.3" cy="295.6" r="1.6" fill="#3d3d3d"/>
<circle cx="295.8" cy="302.6" r="1.6" fill="#3d3d3d"/>
<circle cx="298.8" cy="302.6" r="1.6" fill="#3d3d3d"/>
<circle cx="301.8" cy="302.6" r="1.6" fill="#3d3d3d"/>
<circle cx="304.8" cy="302.6" r="1.6" fill="#3d3d3d"/>
<circle cx="307.8" cy="302.6" r="1.6" fill="#3d3d3d"/>
<circle cx="310.8" cy="302.6" r="1.6" fill="#3d3d3d"/>
<circle cx="297.3" cy="303.8" r="1.6" fill="#3d3d3d"/>
<circle cx="303.3" cy="303.8" r="1.6" fill="#3d3d3d"/>
<circle cx="298.8" cy="309.4" r="1.6" fill="#3d3d3d"/>
<circle cx="301.8" cy="309.4" r="1.6" fill="#3d3d3d"/>
<circle cx="304.8" cy="309.4" r="1.6" fill="#3d3d3d"/>
<circle cx="300.3" cy="311.4" r="1.6" fill="#3d3d3d"/>
<circle cx="303.3" cy="311.4" r="1.6" fill="#3d3d3d"/>
<circle cx="298.8" cy="314.1" r="1.6" fill="#3d3d3d"/>
<circle cx="301.8" cy="314.1" r="1.6" fill="#3d3d3d"/>
<circle cx="304.8" cy="314.1" r="1.6" fill="#3d3d3d"/>
<circle cx="300.3" cy="316.6" r="1.6" fill="#3d3d3d"/>
<circle cx="303.3" cy="316.6" r="1.6" fill="#3d3d3d"/>
<circle cx="298.8" cy="319.2" r="1.6" fill="#3d3d3d"/>
<circle cx="301.8" cy="319.2" r="1.6" fill="#3d3d3d"/>
<circle cx="300.8" cy="327.2" r="1.6" fill="#3d3d3d"/>
<circle cx="302.3" cy="329.2" r="1.6" fill="#3d3d3d"/>
<circle cx="301.8" cy="340.7" r="1.6" fill="#3d3d3d"/>
<circle cx="301.8" cy="346" r="1.6" fill="#3d3d3d"/>
<circle cx="301.8" cy="355.8" r="1.6" fill="#3d3d3d"/>
<circle cx="301.8" cy="364.3" r="2.0" fill="#3d3d3d"/>
<circle cx="301.8" cy="371.1" r="2.0" fill="#3d3d3d"/>
<circle cx="301.8" cy="394.8" r="2.0" fill="#3d3d3d"/>
<line x1="419.6" y1="441.4" x2="419.6" y2="424.47" stroke="#555555" stroke-width="0.8"/>
<line x1="419.6" y1="458.33" x2="419.6" y2="483.72" stroke="#555555" stroke-width="0.8"/>
<line x1="403.9" y1="424.47" x2="435.3" y2="424.47" stroke="#9a9a9a" stroke-width="1.6"/>
<line x1="403.9" y1="483.72" x2="435.3" y2="483.72" stroke="#9a9a9a" stroke-width="1.6"/>
<rect x="388.5" y="441.4" width="62.2" height="16.93" fill="#3a8fe3" stroke="#555555" stroke-width="0.85"/>
<line x1="388.5" y1="449.86" x2="450.7" y2="449.86" stroke="#555555" stroke-width="0.85"/>
<line x1="497.6" y1="407.54" x2="497.6" y2="399.08" stroke="#555555" stroke-width="0.8"/>
<line x1="497.6" y1="424.47" x2="497.6" y2="432.94" stroke="#555555" stroke-width="0.8"/>
<line x1="481.9" y1="399.08" x2="513.3" y2="399.08" stroke="#9a9a9a" stroke-width="1.6"/>
<line x1="481.9" y1="432.94" x2="513.3" y2="432.94" stroke="#9a9a9a" stroke-width="1.6"/>
<rect x="466.5" y="407.54" width="62.2" height="16.93" fill="#3a8fe3" stroke="#555555" stroke-width="0.85"/>
<line x1="466.5" y1="416.01" x2="528.7" y2="416.01" stroke="#555555" stroke-width="0.85"/>
<line x1="575.6" y1="331.37" x2="575.6" y2="280.58" stroke="#555555" stroke-width="0.8"/>
<line x1="575.6" y1="365.22" x2="575.6" y2="390.62" stroke="#555555" stroke-width="0.8"/>
<line x1="559.9" y1="280.58" x2="591.3" y2="280.58" stroke="#9a9a9a" stroke-width="1.6"/>
<line x1="559.9" y1="390.62" x2="591.3" y2="390.62" stroke="#9a9a9a" stroke-width="1.6"/>
<rect x="544.5" y="331.37" width="62.2" height="33.86" fill="#3a8fe3" stroke="#555555" stroke-width="0.85"/>
<line x1="544.5" y1="339.83" x2="606.7" y2="339.83" stroke="#555555" stroke-width="0.85"/>
<line x1="653.4" y1="322.9" x2="653.4" y2="289.05" stroke="#555555" stroke-width="0.8"/>
<line x1="653.4" y1="354.22" x2="653.4" y2="382.15" stroke="#555555" stroke-width="0.8"/>
<line x1="637.7" y1="289.05" x2="669.1" y2="289.05" stroke="#9a9a9a" stroke-width="1.6"/>
<line x1="637.7" y1="382.15" x2="669.1" y2="382.15" stroke="#9a9a9a" stroke-width="1.6"/>
<rect x="622.3" y="322.9" width="62.2" height="31.32" fill="#3a8fe3" stroke="#555555" stroke-width="0.85"/>
<line x1="622.3" y1="339.83" x2="684.5" y2="339.83" stroke="#555555" stroke-width="0.85"/>
<circle cx="416.45" cy="424.47" r="1.6" fill="#3d3d3d"/>
<circle cx="419.6" cy="424.47" r="1.6" fill="#3d3d3d"/>
<circle cx="416.45" cy="432.94" r="1.6" fill="#3d3d3d"/>
<circle cx="419.6" cy="432.94" r="1.6" fill="#3d3d3d"/>
<circle cx="422.75" cy="432.94" r="1.6" fill="#3d3d3d"/>
<circle cx="410.15" cy="441.4" r="1.6" fill="#3d3d3d"/>
<circle cx="413.3" cy="441.4" r="1.6" fill="#3d3d3d"/>
<circle cx="416.45" cy="441.4" r="1.6" fill="#3d3d3d"/>
<circle cx="419.6" cy="441.4" r="1.6" fill="#3d3d3d"/>
<circle cx="422.75" cy="441.4" r="1.6" fill="#3d3d3d"/>
<circle cx="425.9" cy="441.4" r="1.6" fill="#3d3d3d"/>
<circle cx="429.05" cy="441.4" r="1.6" fill="#3d3d3d"/>
<circle cx="410.15" cy="449.86" r="1.6" fill="#3d3d3d"/>
<circle cx="413.3" cy="449.86" r="1.6" fill="#3d3d3d"/>
<circle cx="416.45" cy="449.86" r="1.6" fill="#3d3d3d"/>
<circle cx="419.6" cy="449.86" r="1.6" fill="#3d3d3d"/>
<circle cx="422.75" cy="449.86" r="1.6" fill="#3d3d3d"/>
<circle cx="425.9" cy="449.86" r="1.6" fill="#3d3d3d"/>
<circle cx="429.05" cy="449.86" r="1.6" fill="#3d3d3d"/>
<circle cx="410.15" cy="458.33" r="1.6" fill="#3d3d3d"/>
<circle cx="413.3" cy="458.33" r="1.6" fill="#3d3d3d"/>
<circle cx="416.45" cy="458.33" r="1.6" fill="#3d3d3d"/>
<circle cx="419.6" cy="458.33" r="1.6" fill="#3d3d3d"/>
<circle cx="422.75" cy="458.33" r="1.6" fill="#3d3d3d"/>
<circle cx="425.9" cy="458.33" r="1.6" fill="#3d3d3d"/>
<circle cx="416.45" cy="475.26" r="1.6" fill="#3d3d3d"/>
<circle cx="419.6" cy="475.26" r="1.6" fill="#3d3d3d"/>
<circle cx="416.45" cy="483.72" r="1.6" fill="#3d3d3d"/>
<circle cx="419.6" cy="483.72" r="1.6" fill="#3d3d3d"/>
<circle cx="422.75" cy="483.72" r="1.6" fill="#3d3d3d"/>
<circle cx="494.45" cy="399.08" r="1.6" fill="#3d3d3d"/>
<circle cx="497.6" cy="399.08" r="1.6" fill="#3d3d3d"/>
<circle cx="485" cy="407.54" r="1.6" fill="#3d3d3d"/>
<circle cx="488.15" cy="407.54" r="1.6" fill="#3d3d3d"/>
<circle cx="491.3" cy="407.54" r="1.6" fill="#3d3d3d"/>
<circle cx="494.45" cy="407.54" r="1.6" fill="#3d3d3d"/>
<circle cx="497.6" cy="407.54" r="1.6" fill="#3d3d3d"/>
<circle cx="500.75" cy="407.54" r="1.6" fill="#3d3d3d"/>
<circle cx="503.9" cy="407.54" r="1.6" fill="#3d3d3d"/>
<circle cx="507.05" cy="407.54" r="1.6" fill="#3d3d3d"/>
<circle cx="510.2" cy="407.54" r="1.6" fill="#3d3d3d"/>
<circle cx="488.15" cy="416.01" r="1.6" fill="#3d3d3d"/>
<circle cx="491.3" cy="416.01" r="1.6" fill="#3d3d3d"/>
<circle cx="494.45" cy="416.01" r="1.6" fill="#3d3d3d"/>
<circle cx="497.6" cy="416.01" r="1.6" fill="#3d3d3d"/>
<circle cx="500.75" cy="416.01" r="1.6" fill="#3d3d3d"/>
<circle cx="503.9" cy="416.01" r="1.6" fill="#3d3d3d"/>
<circle cx="507.05" cy="416.01" r="1.6" fill="#3d3d3d"/>
<circle cx="481.85" cy="424.47" r="1.6" fill="#3d3d3d"/>
<circle cx="485" cy="424.47" r="1.6" fill="#3d3d3d"/>
<circle cx="488.15" cy="424.47" r="1.6" fill="#3d3d3d"/>
<circle cx="491.3" cy="424.47" r="1.6" fill="#3d3d3d"/>
<circle cx="494.45" cy="424.47" r="1.6" fill="#3d3d3d"/>
<circle cx="497.6" cy="424.47" r="1.6" fill="#3d3d3d"/>
<circle cx="500.75" cy="424.47" r="1.6" fill="#3d3d3d"/>
<circle cx="503.9" cy="424.47" r="1.6" fill="#3d3d3d"/>
<circle cx="507.05" cy="424.47" r="1.6" fill="#3d3d3d"/>
<circle cx="510.2" cy="424.47" r="1.6" fill="#3d3d3d"/>
<circle cx="513.35" cy="424.47" r="1.6" fill="#3d3d3d"/>
<circle cx="497.6" cy="432.94" r="1.6" fill="#3d3d3d"/>
<circle cx="572.45" cy="280.58" r="1.6" fill="#3d3d3d"/>
<circle cx="575.6" cy="280.58" r="1.6" fill="#3d3d3d"/>
<circle cx="575.6" cy="289.05" r="1.6" fill="#3d3d3d"/>
<circle cx="575.6" cy="297.51" r="1.6" fill="#3d3d3d"/>
<circle cx="575.6" cy="314.44" r="1.6" fill="#3d3d3d"/>
<circle cx="572.45" cy="322.9" r="1.6" fill="#3d3d3d"/>
<circle cx="575.6" cy="322.9" r="1.6" fill="#3d3d3d"/>
<circle cx="572.45" cy="331.37" r="1.6" fill="#3d3d3d"/>
<circle cx="575.6" cy="331.37" r="1.6" fill="#3d3d3d"/>
<circle cx="566.15" cy="339.83" r="1.6" fill="#3d3d3d"/>
<circle cx="569.3" cy="339.83" r="1.6" fill="#3d3d3d"/>
<circle cx="572.45" cy="339.83" r="1.6" fill="#3d3d3d"/>
<circle cx="575.6" cy="339.83" r="1.6" fill="#3d3d3d"/>
<circle cx="578.75" cy="339.83" r="1.6" fill="#3d3d3d"/>
<circle cx="581.9" cy="339.83" r="1.6" fill="#3d3d3d"/>
<circle cx="585.05" cy="339.83" r="1.6" fill="#3d3d3d"/>
<circle cx="569.3" cy="348.3" r="1.6" fill="#3d3d3d"/>
<circle cx="572.45" cy="348.3" r="1.6" fill="#3d3d3d"/>
<circle cx="575.6" cy="348.3" r="1.6" fill="#3d3d3d"/>
<circle cx="578.75" cy="348.3" r="1.6" fill="#3d3d3d"/>
<circle cx="575.6" cy="356.76" r="1.6" fill="#3d3d3d"/>
<circle cx="569.3" cy="365.22" r="1.6" fill="#3d3d3d"/>
<circle cx="572.45" cy="365.22" r="1.6" fill="#3d3d3d"/>
<circle cx="575.6" cy="365.22" r="1.6" fill="#3d3d3d"/>
<circle cx="578.75" cy="365.22" r="1.6" fill="#3d3d3d"/>
<circle cx="581.9" cy="365.22" r="1.6" fill="#3d3d3d"/>
<circle cx="575.6" cy="373.69" r="1.6" fill="#3d3d3d"/>
<circle cx="572.45" cy="382.15" r="1.6" fill="#3d3d3d"/>
<circle cx="575.6" cy="382.15" r="1.6" fill="#3d3d3d"/>
<circle cx="575.6" cy="390.62" r="1.6" fill="#3d3d3d"/>
<circle cx="653.4" cy="289.05" r="1.6" fill="#3d3d3d"/>
<circle cx="650.25" cy="297.51" r="1.6" fill="#3d3d3d"/>
<circle cx="653.4" cy="297.51" r="1.6" fill="#3d3d3d"/>
<circle cx="653.4" cy="305.98" r="1.6" fill="#3d3d3d"/>
<circle cx="650.25" cy="314.44" r="1.6" fill="#3d3d3d"/>
<circle cx="653.4" cy="314.44" r="1.6" fill="#3d3d3d"/>
<circle cx="650.25" cy="322.9" r="1.6" fill="#3d3d3d"/>
<circle cx="653.4" cy="322.9" r="1.6" fill="#3d3d3d"/>
<circle cx="656.55" cy="322.9" r="1.6" fill="#3d3d3d"/>
<circle cx="647.1" cy="331.37" r="1.6" fill="#3d3d3d"/>
<circle cx="650.25" cy="331.37" r="1.6" fill="#3d3d3d"/>
<circle cx="653.4" cy="331.37" r="1.6" fill="#3d3d3d"/>
<circle cx="656.55" cy="331.37" r="1.6" fill="#3d3d3d"/>
<circle cx="659.7" cy="331.37" r="1.6" fill="#3d3d3d"/>
<circle cx="643.95" cy="339.83" r="1.6" fill="#3d3d3d"/>
<circle cx="647.1" cy="339.83" r="1.6" fill="#3d3d3d"/>
<circle cx="650.25" cy="339.83" r="1.6" fill="#3d3d3d"/>
<circle cx="653.4" cy="339.83" r="1.6" fill="#3d3d3d"/>
<circle cx="656.55" cy="339.83" r="1.6" fill="#3d3d3d"/>
<circle cx="659.7" cy="339.83" r="1.6" fill="#3d3d3d"/>
<circle cx="650.25" cy="348.3" r="1.6" fill="#3d3d3d"/>
<circle cx="653.4" cy="348.3" r="1.6" fill="#3d3d3d"/>
<circle cx="650.25" cy="356.76" r="1.6" fill="#3d3d3d"/>
<circle cx="653.4" cy="356.76" r="1.6" fill="#3d3d3d"/>
<circle cx="650.25" cy="365.22" r="1.6" fill="#3d3d3d"/>
<circle cx="653.4" cy="365.22" r="1.6" fill="#3d3d3d"/>
<circle cx="650.25" cy="373.69" r="1.6" fill="#3d3d3d"/>
<circle cx="653.4" cy="373.69" r="1.6" fill="#3d3d3d"/>
<circle cx="656.55" cy="373.69" r="1.6" fill="#3d3d3d"/>
<circle cx="653.4" cy="382.15" r="1.6" fill="#3d3d3d"/>
<path d="M421.7 17.7 L421.7 13.8 Q421.7 11.8 423.7 11.8 L561.8 11.8 Q563.8 11.8 563.8 13.8 L563.8 17.7 M490.4 11.8 Q492.6 11.8 492.6 9.6 L492.6 6.4 M494.8 11.8 Q492.6 11.8 492.6 9.6" fill="none" stroke="#3a7c9a" stroke-width="1.9" stroke-linejoin="round" stroke-linecap="butt"/>
<text x="493.2" y="8.1" font-size="12.0" fill="#224f76" text-anchor="start" stroke="#224f76" stroke-width="0.3" textLength="45.8" lengthAdjust="spacingAndGlyphs">*p&lt;0.001</text>
<path d="M424.9 31.8 L424.9 27.7 Q424.9 25.7 426.9 25.7 L649.5 25.7 Q651.5 25.7 651.5 27.7 L651.5 31.8 M536.2 25.7 Q538.4 25.7 538.4 23.5 L538.4 20 M540.6 25.7 Q538.4 25.7 538.4 23.5" fill="none" stroke="#3a7c9a" stroke-width="1.9" stroke-linejoin="round" stroke-linecap="butt"/>
<text x="493.2" y="22.8" font-size="12.0" fill="#224f76" text-anchor="start" stroke="#224f76" stroke-width="0.3" textLength="45.8" lengthAdjust="spacingAndGlyphs">*p&lt;0.001</text>
<path d="M431.5 43.8 L431.5 42 Q431.5 40 433.5 40 L497.5 40 Q499.5 40 499.5 42 L499.5 43.8 M463.2 40 Q465.4 40 465.4 37.8 L465.4 37 M467.6 40 Q465.4 40 465.4 37.8" fill="none" stroke="#3a7c9a" stroke-width="1.9" stroke-linejoin="round" stroke-linecap="butt"/>
<text x="448.7" y="37" font-size="12.0" fill="#224f76" text-anchor="start" stroke="#224f76" stroke-width="0.3" textLength="45.8" lengthAdjust="spacingAndGlyphs">*p&lt;0.001</text>
<path d="M503.8 83.2 L503.8 81.95 Q503.8 79.95 505.8 79.95 L650.3 79.95 Q652.3 79.95 652.3 81.95 L652.3 83.2 M575.8 79.95 Q578 79.95 578 77.75 L578 76.2 M580.2 79.95 Q578 79.95 578 77.75" fill="none" stroke="#3a7c9a" stroke-width="1.9" stroke-linejoin="round" stroke-linecap="butt"/>
<text x="555.2" y="74.6" font-size="12.0" fill="#224f76" text-anchor="start" stroke="#224f76" stroke-width="0.3" textLength="45.8" lengthAdjust="spacingAndGlyphs">*p&lt;0.001</text>
<path d="M503.5 104 L503.5 102.35 Q503.5 100.35 505.5 100.35 L576.3 100.35 Q578.3 100.35 578.3 102.35 L578.3 104 M538.6 100.35 Q540.8 100.35 540.8 98.15 L540.8 96.6 M543 100.35 Q540.8 100.35 540.8 98.15" fill="none" stroke="#3a7c9a" stroke-width="1.9" stroke-linejoin="round" stroke-linecap="butt"/>
<text x="520.4" y="95.5" font-size="12.0" fill="#224f76" text-anchor="start" stroke="#224f76" stroke-width="0.3" textLength="45.8" lengthAdjust="spacingAndGlyphs">*p&lt;0.001</text>
<path d="M66.8 298 L66.8 293 Q66.8 291 68.8 291 L201.4 291 Q203.4 291 203.4 293 L203.4 298 M132.6 291 Q134.8 291 134.8 288.8 L134.8 285.6 M137 291 Q134.8 291 134.8 288.8" fill="none" stroke="#3a7c9a" stroke-width="1.9" stroke-linejoin="round" stroke-linecap="butt"/>
<text x="113.2" y="283.5" font-size="12.0" fill="#224f76" text-anchor="start" stroke="#224f76" stroke-width="0.3" textLength="45.8" lengthAdjust="spacingAndGlyphs">*p&lt;0.001</text>
<path d="M66.5 405.8 L66.5 402.55 Q66.5 400.55 68.5 400.55 L141.3 400.55 Q143.3 400.55 143.3 402.55 L143.3 405.8 M102.8 400.55 Q105 400.55 105 398.35 L105 394.9 M107.2 400.55 Q105 400.55 105 398.35" fill="none" stroke="#3a7c9a" stroke-width="1.9" stroke-linejoin="round" stroke-linecap="butt"/>
<text x="79.1" y="389.7" font-size="12.0" fill="#224f76" text-anchor="start" stroke="#224f76" stroke-width="0.3" textLength="45.8" lengthAdjust="spacingAndGlyphs">*p&lt;0.001</text>
<path d="M174.3 441.8 L174.3 445.85 Q174.3 447.85 176.3 447.85 L302.2 447.85 Q304.2 447.85 304.2 445.85 L304.2 441.8 M237.3 447.85 Q239.5 447.85 239.5 450.05 L239.5 452.8 M241.7 447.85 Q239.5 447.85 239.5 450.05" fill="none" stroke="#3a7c9a" stroke-width="1.9" stroke-linejoin="round" stroke-linecap="butt"/>
<text x="232.4" y="463" font-size="12.0" fill="#224f76" text-anchor="start" stroke="#224f76" stroke-width="0.3" textLength="45.8" lengthAdjust="spacingAndGlyphs">*p&lt;0.001</text>
<path d="M142.7 453.2 L142.7 456.95 Q142.7 458.95 144.7 458.95 L229.3 458.95 Q231.3 458.95 231.3 456.95 L231.3 454.8 M184.7 458.95 Q186.9 458.95 186.9 461.15 L186.9 464.4 M189.1 458.95 Q186.9 458.95 186.9 461.15" fill="none" stroke="#3a7c9a" stroke-width="1.9" stroke-linejoin="round" stroke-linecap="butt"/>
<text x="165.5" y="475" font-size="12.0" fill="#224f76" text-anchor="start" stroke="#224f76" stroke-width="0.3" textLength="45.8" lengthAdjust="spacingAndGlyphs">*p&lt;0.001</text>
<path d="M95 473.2 L95 480.75 Q95 482.75 97 482.75 L302.2 482.75 Q304.2 482.75 304.2 480.75 L304.2 473.2 M197.8 482.75 Q200 482.75 200 484.95 L200 493.2 M202.2 482.75 Q200 482.75 200 484.95" fill="none" stroke="#3a7c9a" stroke-width="1.9" stroke-linejoin="round" stroke-linecap="butt"/>
<text x="168.5" y="501.5" font-size="12.0" fill="#224f76" text-anchor="start" stroke="#224f76" stroke-width="0.3" textLength="45.8" lengthAdjust="spacingAndGlyphs">*p&lt;0.001</text>
<path d="M426.6 292.8 L426.6 288.75 Q426.6 286.75 428.6 286.75 L561.2 286.75 Q563.2 286.75 563.2 288.75 L563.2 292.8 M492.5 286.75 Q494.7 286.75 494.7 284.55 L494.7 280.9 M496.9 286.75 Q494.7 286.75 494.7 284.55" fill="none" stroke="#3a7c9a" stroke-width="1.9" stroke-linejoin="round" stroke-linecap="butt"/>
<text x="473.3" y="279" font-size="12.0" fill="#224f76" text-anchor="start" stroke="#224f76" stroke-width="0.3" textLength="45.8" lengthAdjust="spacingAndGlyphs">*p&lt;0.001</text>
<path d="M415.9 391.2 L415.9 387.95 Q415.9 385.95 417.9 385.95 L490.3 385.95 Q492.3 385.95 492.3 387.95 L492.3 391.2 M452.1 385.95 Q454.3 385.95 454.3 383.75 L454.3 380.4 M456.5 385.95 Q454.3 385.95 454.3 383.75" fill="none" stroke="#3a7c9a" stroke-width="1.9" stroke-linejoin="round" stroke-linecap="butt"/>
<text x="428.4" y="374.9" font-size="12.0" fill="#224f76" text-anchor="start" stroke="#224f76" stroke-width="0.3" textLength="45.8" lengthAdjust="spacingAndGlyphs">*p&lt;0.001</text>
<path d="M525.9 427.8 L525.9 431.25 Q525.9 433.25 527.9 433.25 L653.7 433.25 Q655.7 433.25 655.7 431.25 L655.7 427.8 M588.8 433.25 Q591 433.25 591 435.45 L591 438.1 M593.2 433.25 Q591 433.25 591 435.45" fill="none" stroke="#3a7c9a" stroke-width="1.9" stroke-linejoin="round" stroke-linecap="butt"/>
<text x="583.6" y="447.2" font-size="12.0" fill="#224f76" text-anchor="start" stroke="#224f76" stroke-width="0.3" textLength="45.8" lengthAdjust="spacingAndGlyphs">*p&lt;0.001</text>
<path d="M491.8 443.8 L491.8 447.25 Q491.8 449.25 493.8 449.25 L578.1 449.25 Q580.1 449.25 580.1 447.25 L580.1 443.8 M533.3 449.25 Q535.5 449.25 535.5 451.45 L535.5 454.4 M537.7 449.25 Q535.5 449.25 535.5 451.45" fill="none" stroke="#3a7c9a" stroke-width="1.9" stroke-linejoin="round" stroke-linecap="butt"/>
<text x="514.5" y="465.6" font-size="12.0" fill="#224f76" text-anchor="start" stroke="#224f76" stroke-width="0.3" textLength="45.8" lengthAdjust="spacingAndGlyphs">*p&lt;0.001</text>
<path d="M444 463.2 L444 470.85 Q444 472.85 446 472.85 L651.7 472.85 Q653.7 472.85 653.7 470.85 L653.7 463.2 M545.8 472.85 Q548 472.85 548 475.05 L548 483.6 M550.2 472.85 Q548 472.85 548 475.05" fill="none" stroke="#3a7c9a" stroke-width="1.9" stroke-linejoin="round" stroke-linecap="butt"/>
<text x="517.4" y="491.4" font-size="12.0" fill="#224f76" text-anchor="start" stroke="#224f76" stroke-width="0.3" textLength="45.8" lengthAdjust="spacingAndGlyphs">*p&lt;0.001</text>
</svg>
</body></html>
